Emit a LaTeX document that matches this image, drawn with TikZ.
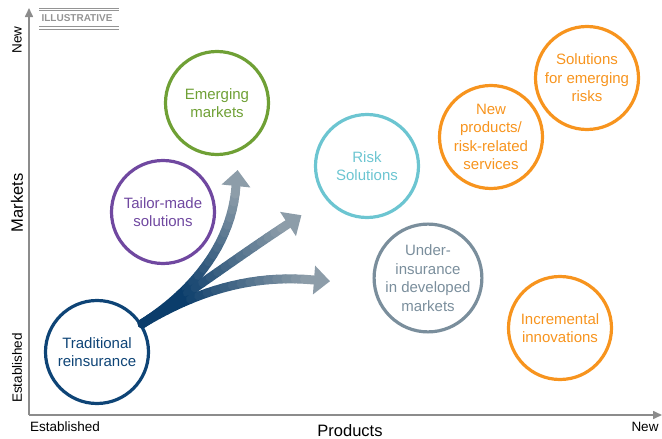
\documentclass[tikz,border=0pt]{standalone}
\usepackage{fontspec}
\setmainfont{Liberation Sans}
\usetikzlibrary{arrows.meta, calc}

\definecolor{navyblue}{HTML}{0E4476}
\definecolor{lilac}{HTML}{7048A0}
\definecolor{leafgreen}{HTML}{6FA035}
\definecolor{teal}{HTML}{6CC5D1}
\definecolor{slate}{HTML}{7A8E9C}
\definecolor{tangerine}{HTML}{F7941E}
\definecolor{axisgray}{HTML}{8C8C8C}
\definecolor{stampgray}{HTML}{949494}
\definecolor{arrowdark}{HTML}{0B3D6B}
\definecolor{arrowlight}{HTML}{8D9DA9}

\tikzset{
  bubble/.style={circle, draw=#1, text=#1, line width=3.2pt, minimum size=103pt,
    inner sep=0pt, align=center, font=\fontsize{15}{18.5}\selectfont},
  axis/.style={draw=axisgray, line width=1.6pt, -{Triangle[length=9pt, width=8pt]}},
  axislabel/.style={font=\fontsize{13.5}{15}\selectfont}
}

\begin{document}
\begin{tikzpicture}[x=1pt, y=-1pt]
\useasboundingbox (0,0) rectangle (662,439);

\coordinate (origin) at (29,415);
\coordinate (ytop) at (29,8);
\coordinate (xend) at (662,415);
\draw[axis] (origin) -- (ytop);
\draw[axis] (origin) -- (xend);

\node[axislabel, rotate=90] (ynew) at (17,40) {New};
\node[axislabel, rotate=90] (yest) at (17,368) {Established};
\node[font=\fontsize{16.5}{18}\selectfont, rotate=90] (ylabel) at (17,203) {Markets};
\node[axislabel] (xest) at (65,427) {Established};
\node[axislabel] (xnew) at (645,427) {New};
\node[font=\fontsize{16.5}{18}\selectfont] (xlabel) at (350,431) {Products};

% stamp
\node[text=stampgray, font=\fontsize{10}{10}\bfseries, inner sep=0pt] (stamp) at (77,18.5) {ILLUSTRATIVE};
\draw[stampgray, line width=1pt] (39,8.3) -- (119,8.3) (39,10.9) -- (119,10.9)
  (39,26.7) -- (119,26.7) (39,29.3) -- (119,29.3);

\node[bubble=navyblue] (trad) at (97,352) {Traditional\\reinsurance};
\node[bubble=lilac] (tailor) at (163,212) {Tailor-made\\solutions};
\node[bubble=leafgreen] (emerging) at (217,103) {Emerging\\markets};
\node[bubble=teal] (risk) at (367,166) {Risk\\Solutions};
\node[bubble=slate] (underins) at (428,278) {Under-\\insurance\\in developed\\markets};
\node[bubble=tangerine] (newprod) at (491,137) {New\\products/\\risk-related\\services};
\node[bubble=tangerine] (emrisks) at (587,78) {Solutions\\for emerging\\risks};
\node[bubble=tangerine] (increm) at (560,328) {Incremental\\innovations};

% fanning arrows
\coordinate (root) at (trad.32);
\coordinate (upa) at (198,288);
\coordinate (upb) at (232,240);
\coordinate (upe) at (236,186);
\coordinate (mida) at (192,291);
\coordinate (midb) at (245,252);
\coordinate (mide) at (288,224);
\coordinate (righta) at (195,292);
\coordinate (rightb) at (250,274);
\coordinate (righte) at (314,280);

\foreach \nm in {up, mid, right} {
  \path (root) .. controls (\nm a) and (\nm b) .. (\nm e)
    \foreach \i in {0,...,20} {coordinate[pos=\i/20] (\nm\i)};
  \foreach \i in {1,...,20} {
    \pgfmathtruncatemacro{\j}{\i-1}
    \pgfmathtruncatemacro{\pct}{min(100,(20-\i)*100/14)}
    \draw[line width=9pt, line cap=round, draw=arrowdark!\pct!arrowlight] (\nm\j) -- (\nm\i);
  }
  \fill[arrowlight] ($(\nm20)!-16pt!(\nm19)$) -- ($(\nm20)!14.5pt!90:(\nm19)$)
    -- ($(\nm20)!14.5pt!-90:(\nm19)$) -- cycle;
}
\end{tikzpicture}
\end{document}
